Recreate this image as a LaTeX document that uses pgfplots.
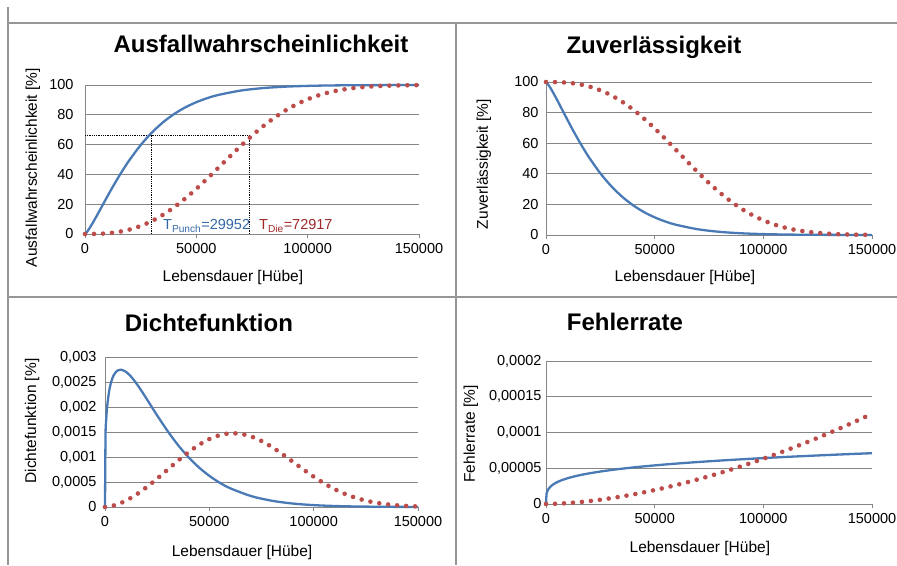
\documentclass[border=0pt]{standalone}
\usepackage{fontspec}
\setmainfont{Liberation Sans}
\usepackage{pgfplots}
\usepackage{pgfplotstable}
\pgfplotsset{compat=1.18}
\definecolor{serblue}{RGB}{74,122,182}
\definecolor{serred}{RGB}{188,76,74}
\definecolor{gridgray}{RGB}{134,134,134}
\definecolor{framegray}{RGB}{150,150,150}
\definecolor{tblue}{RGB}{52,104,164}
\definecolor{tred}{RGB}{160,40,40}

% Punch (blue) series: t, F [%], R [%], density [%], failure rate
\pgfplotstableread{
t F R f h
0 0 100 0 0
250 0.287 99.713 0.001432 1.437e-5
500 0.681 99.319 0.001696 1.708e-5
1000 1.611 98.389 0.001997 2.030e-5
2000 3.791 96.209 0.002324 2.416e-5
3000 6.214 93.786 0.002507 2.673e-5
4000 8.78 91.22 0.00262 2.872e-5
5000 11.44 88.56 0.002689 3.037e-5
6000 14.15 85.85 0.002729 3.179e-5
7500 18.27 81.73 0.002748 3.362e-5
10000 25.09 74.91 0.002705 3.612e-5
12500 31.74 68.26 0.002607 3.819e-5
15000 38.10 61.90 0.002474 3.997e-5
17500 44.09 55.91 0.002322 4.154e-5
20000 49.70 50.30 0.002160 4.295e-5
25000 59.68 40.32 0.001831 4.541e-5
30000 68.04 31.96 0.001519 4.753e-5
35000 74.92 25.08 0.001239 4.940e-5
40000 80.50 19.50 0.000996 5.108e-5
45000 84.95 15.05 0.000792 5.260e-5
50000 88.47 11.53 0.000623 5.401e-5
55000 91.23 8.77 0.000485 5.531e-5
60000 93.37 6.63 0.000375 5.653e-5
70000 96.27 3.73 0.000219 5.875e-5
80000 97.95 2.05 0.000125 6.074e-5
90000 98.89 1.11 0.0000692 6.255e-5
100000 99.41 0.59 0.0000377 6.423e-5
110000 99.69 0.31 0.0000202 6.577e-5
120000 99.84 0.16 0.0000106 6.722e-5
135000 99.94 0.06 0.0000039 6.923e-5
150000 99.98 0.02 0.0000014 7.108e-5
}\punch

% Die (red) series
\pgfplotstableread{
t F R f h
0 0 100 0 0
5000 0.072 99.928 0.0000389 3.89e-7
10000 0.467 99.533 0.0001258 1.264e-6
15000 1.389 98.611 0.0002483 2.518e-6
20000 2.996 97.004 0.0003984 4.107e-6
25000 5.405 94.595 0.0005677 6.001e-6
30000 8.69 91.31 0.000747 8.182e-6
35000 12.87 87.13 0.000926 1.0633e-5
40000 17.93 82.07 0.001095 1.3342e-5
45000 23.79 76.21 0.001242 1.630e-5
50000 30.31 69.69 0.001359 1.950e-5
55000 37.31 62.69 0.001437 2.293e-5
60000 44.61 55.39 0.001473 2.658e-5
65000 51.96 48.04 0.001463 3.046e-5
70000 59.17 40.83 0.001411 3.455e-5
75000 66.01 33.99 0.001320 3.885e-5
80000 72.32 27.68 0.001200 4.335e-5
85000 77.97 22.03 0.001058 4.806e-5
90000 82.89 17.11 0.000906 5.296e-5
95000 87.03 12.97 0.000753 5.806e-5
100000 90.43 9.57 0.000607 6.334e-5
105000 93.12 6.88 0.000474 6.883e-5
110000 95.19 4.81 0.000358 7.449e-5
115000 96.73 3.27 0.000262 8.034e-5
120000 97.85 2.15 0.000186 8.637e-5
125000 98.62 1.38 0.000128 9.257e-5
130000 99.15 0.85 0.0000844 9.895e-5
135000 99.49 0.51 0.0000540 1.0551e-4
140000 99.70 0.30 0.0000333 1.1224e-4
145000 99.83 0.17 0.0000198 1.1914e-4
150000 99.91 0.09 0.0000114 1.2620e-4
}\die

\pgfplotsset{
  panel/.style={
    scale only axis, anchor=south west,
    xmin=0, xmax=150000,
    axis lines*=left,
    axis line style={-, draw=gridgray, line width=0.9pt},
    ymajorgrids, grid style={gridgray, line width=0.9pt},
    xtick={0,50000,100000,150000},
    xticklabels={0,50000,100000,150000},
    xtick style={draw=gridgray, line width=0.9pt},
    ytick style={draw=none},
    tick align=outside, major tick length=4pt,
    xticklabel style={yshift=-1.5pt},
    tick label style={font=\fontsize{14.5}{17}\selectfont},
    label style={font=\fontsize{15.5}{18}\selectfont},
    title style={font=\fontsize{24}{28}\selectfont\bfseries, anchor=base},
    /pgf/number format/assume math mode=true,
    scaled ticks=false, clip=false,
  },
  blueline/.style={serblue, line width=2.3pt, smooth, no marks, line join=round},
  reddots/.style={serred, line width=4.6pt, dash pattern=on 0pt off 9pt, line cap=round, smooth, no marks},
}

\begin{document}
\begin{tikzpicture}
\path[use as bounding box] (0pt,0pt) rectangle (897pt,-565pt);
\draw[framegray, line width=1.6pt] (8pt,-7pt) -- (8pt,-565pt);
\draw[framegray, line width=1.6pt] (8pt,-23pt) -- (897pt,-23pt);
\draw[framegray, line width=1.6pt] (456pt,-23pt) -- (456pt,-565pt);
\draw[framegray, line width=1.6pt] (8pt,-297pt) -- (897pt,-297pt);

% Panel 1
\begin{axis}[panel, at={(85pt,-234pt)}, width=334pt, height=149pt,
  ymin=0, ymax=100, ytick={0,20,40,60,80,100},
  yticklabels={0,20,40,60,80,100},
  yticklabel style={xshift=-4pt},
  title={Ausfallwahrscheinlichkeit},
  title style={at={(axis description cs:0.527,1.181)}},
  xlabel={Lebensdauer [Hübe]},
  xlabel style={at={(axis description cs:0.443,-0.322)}, anchor=base},
  ylabel={Ausfallwahrscheinlichkeit [\%]},
  ylabel style={at={(axis description cs:-0.144,0.446)}, anchor=base},
]
\addplot[black, line width=0.8pt, densely dotted] coordinates {(0,66.5) (73800,66.5)};
\addplot[black, line width=0.8pt, densely dotted] coordinates {(29952,0) (29952,66.5)};
\addplot[black, line width=0.8pt, densely dotted] coordinates {(73800,0) (73800,66.5)};
\addplot[blueline] table[x=t, y=F] {\punch};
\addplot[reddots] table[x=t, y=F] {\die};
\node[anchor=base west, text=tblue, font=\fontsize{14.5}{17}\selectfont, inner sep=0pt] at (axis cs:35030,2.7) {T\textsubscript{Punch}=29952};
\node[anchor=base west, text=tred, font=\fontsize{14.5}{17}\selectfont, inner sep=0pt] at (axis cs:78140,2.7) {T\textsubscript{Die}=72917};
\end{axis}

% Panel 2
\begin{axis}[panel, at={(546pt,-235pt)}, width=326pt, height=153pt,
  ymin=0, ymax=100, ytick={0,20,40,60,80,100},
  yticklabels={0,20,40,60,80,100},
  yticklabel style={xshift=0pt},
  title={Zuverlässigkeit},
  title style={at={(axis description cs:0.331,1.150)}},
  xlabel={Lebensdauer [Hübe]},
  xlabel style={at={(axis description cs:0.426,-0.307)}, anchor=base},
  ylabel={Zuverlässigkeit [\%]},
  ylabel style={at={(axis description cs:-0.178,0.464)}, anchor=base},
]
\addplot[blueline] table[x=t, y=R] {\punch};
\addplot[reddots] table[x=t, y=R] {\die};
\end{axis}

% Panel 3
\begin{axis}[panel, at={(105pt,-507pt)}, width=313pt, height=150pt,
  ymin=0, ymax=0.003, ytick={0,0.0005,0.001,0.0015,0.002,0.0025,0.003},
  yticklabels={0,{0,0005},{0,001},{0,0015},{0,002},{0,0025},{0,003}},
  yticklabel style={xshift=-1pt},
  title={Dichtefunktion},
  title style={at={(axis description cs:0.332,1.127)}},
  xlabel={Lebensdauer [Hübe]},
  xlabel style={at={(axis description cs:0.438,-0.333)}, anchor=base},
  ylabel={Dichtefunktion [\%]},
  ylabel style={at={(axis description cs:-0.220,0.573)}, anchor=base},
]
\addplot[blueline, smooth=false] table[x=t, y=f] {\punch};
\addplot[reddots] table[x=t, y=f] {\die};
\end{axis}

% Panel 4
\begin{axis}[panel, at={(546pt,-504pt)}, width=326pt, height=143pt,
  ymin=0, ymax=0.0002, ytick={0,0.00005,0.0001,0.00015,0.0002},
  yticklabels={0,{0,00005},{0,0001},{0,00015},{0,0002}},
  yticklabel style={xshift=3pt},
  title={Fehlerrate},
  title style={at={(axis description cs:0.242,1.168)}},
  xlabel={Lebensdauer [Hübe]},
  xlabel style={at={(axis description cs:0.472,-0.336)}, anchor=base},
  ylabel={Fehlerrate [\%]},
  ylabel style={at={(axis description cs:-0.218,0.49)}, anchor=base},
]
\addplot[blueline] table[x=t, y=h] {\punch};
\addplot[reddots] table[x=t, y=h] {\die};
\end{axis}
\end{tikzpicture}
\end{document}
